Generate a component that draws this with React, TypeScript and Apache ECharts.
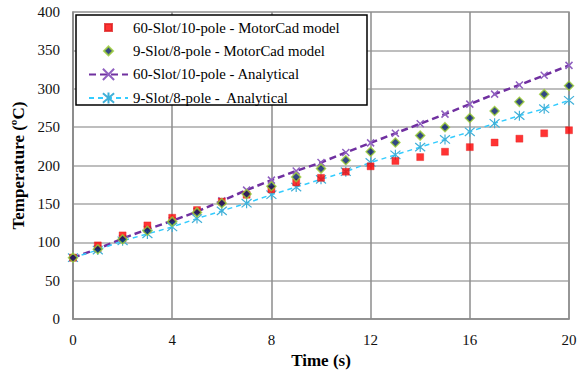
import React, { useEffect, useRef } from "react";
import * as echarts from "echarts";

const timeValues = [0, 1, 2, 3, 4, 5, 6, 7, 8, 9, 10, 11, 12, 13, 14, 15, 16, 17, 18, 19, 20];
const slot60MotorCad = [80, 96, 109, 122, 132, 142, 153, 162, 169, 178, 184, 192, 199, 206, 211, 218, 224, 230, 235, 242, 246];
const slot9MotorCad = [80, 91, 104, 115, 127, 139, 151, 163, 173, 185, 196, 207, 218, 230, 239, 250, 262, 271, 283, 293, 304];
const slot60Analytical = [80, 91.5, 105, 117, 128, 140, 154, 168, 181, 193, 204, 217, 229.5, 242, 254.5, 267, 280, 293, 305, 317.5, 330.5];
const slot9Analytical = [80, 90, 102, 111, 120, 131, 141, 151, 162, 172, 182, 192, 204, 214, 224, 234, 244, 255, 265, 274, 285];

const seriesNames = [
  "60-Slot/10-pole - MotorCad model",
  "9-Slot/8-pole - MotorCad model",
  "60-Slot/10-pole - Analytical",
  "9-Slot/8-pole -  Analytical",
];

const xTicks = { min: 0, max: 20, interval: 4 };
const yTicks = { min: 0, max: 400, interval: 50 };

const pair = (vals: number[]) => timeValues.map((t, i) => [t, vals[i]]);

const crossPath = "path://M0,0L10,10M10,0L0,10";
const asteriskPath = "path://M0,0L10,10M10,0L0,10M5,-1L5,11";
const legendSquare = "path://M0,0M39,14M16,3.5L23,3.5L23,10.5L16,10.5Z";
const legendDiamond = "path://M0,0M39,14M19.5,2.5L24,7L19.5,11.5L15,7Z";

const FONT = "'Liberation Serif', 'Times New Roman', serif";

export default function App() {
  const ref = useRef<HTMLDivElement>(null);
  useEffect(() => {
    if (!ref.current) return;
    const chart = echarts.init(ref.current, undefined, { renderer: "svg" });
    chart.setOption({
      animation: false,
      backgroundColor: "#ffffff",
      textStyle: { fontFamily: FONT },
      grid: {
        left: 73,
        right: 18,
        top: 12,
        bottom: 53.5,
        show: true,
        borderColor: "#9a9a9a",
        borderWidth: 1.5,
      },
      graphic: [
        {
          type: "rect",
          z: 10,
          shape: { x: 76, y: 15, width: 291, height: 90 },
          style: { fill: "#ffffff", stroke: "#000000", lineWidth: 1.5 },
        },
      ],
      legend: {
        z: 20,
        orient: "vertical",
        left: 88,
        top: 19.5,
        padding: 0,
        itemWidth: 39,
        itemHeight: 14,
        itemGap: 7.4,
        data: [
          { name: seriesNames[0], icon: legendSquare },
          { name: seriesNames[1], icon: legendDiamond },
          { name: seriesNames[2] },
          { name: seriesNames[3] },
        ],
        textStyle: { fontFamily: FONT, fontSize: 14.8, color: "#000000", lineHeight: 14 },
      },
      xAxis: {
        type: "value",
        min: xTicks.min,
        max: xTicks.max,
        interval: xTicks.interval,
        name: "Time (s)",
        nameLocation: "middle",
        nameGap: 30,
        nameTextStyle: { fontFamily: FONT, fontSize: 17, fontWeight: "bold", color: "#000" },
        axisLine: { lineStyle: { color: "#8a8a8a", width: 1.5 } },
        axisTick: { show: false },
        axisLabel: { margin: 13, fontFamily: FONT, fontSize: 15, color: "#111" },
        splitLine: { show: true, lineStyle: { color: "#8c8c8c", width: 1.5 } },
      },
      yAxis: {
        type: "value",
        min: yTicks.min,
        max: yTicks.max,
        interval: yTicks.interval,
        name: "Temperature (ºC)",
        nameLocation: "middle",
        nameRotate: 90,
        nameGap: 43,
        nameTextStyle: { fontFamily: FONT, fontSize: 17, fontWeight: "bold", color: "#000" },
        axisLine: { show: true, lineStyle: { color: "#8a8a8a", width: 1.5 } },
        axisTick: { show: false },
        axisLabel: { margin: 13, fontFamily: FONT, fontSize: 15, color: "#111" },
        splitLine: { show: true, lineStyle: { color: "#a8a8a8", width: 1.5 } },
      },
      series: [
        {
          name: seriesNames[0],
          type: "scatter",
          data: pair(slot60MotorCad),
          symbol: "rect",
          symbolSize: 7,
          itemStyle: { color: "#ff0000", borderColor: "#e02020", borderWidth: 0.5 },
          z: 3,
        },
        {
          name: seriesNames[1],
          type: "scatter",
          data: pair(slot9MotorCad),
          symbol: "diamond",
          symbolSize: 9,
          itemStyle: { color: "#001a66", borderColor: "#9acd32", borderWidth: 1.5 },
          z: 4,
        },
        {
          name: seriesNames[2],
          type: "line",
          data: pair(slot60Analytical),
          symbol: crossPath,
          symbolSize: 7,
          showAllSymbol: true,
          itemStyle: { color: "none", borderColor: "#9060c0", borderWidth: 1.5 },
          lineStyle: { color: "#7030a0", width: 2.5, type: [7, 4] },
          z: 2,
        },
        {
          name: seriesNames[3],
          type: "line",
          data: pair(slot9Analytical),
          symbol: asteriskPath,
          symbolSize: 10,
          showAllSymbol: true,
          itemStyle: { color: "none", borderColor: "#40b0d8", borderWidth: 1.2 },
          lineStyle: { color: "#33ccff", width: 1.5, type: [5, 4] },
          z: 2,
        },
      ],
    });
    return () => chart.dispose();
  }, []);
  return (
    <div
      ref={ref}
      style={{ position: "fixed", left: 0, top: 0, width: 587, height: 374 }}
    />
  );
}
